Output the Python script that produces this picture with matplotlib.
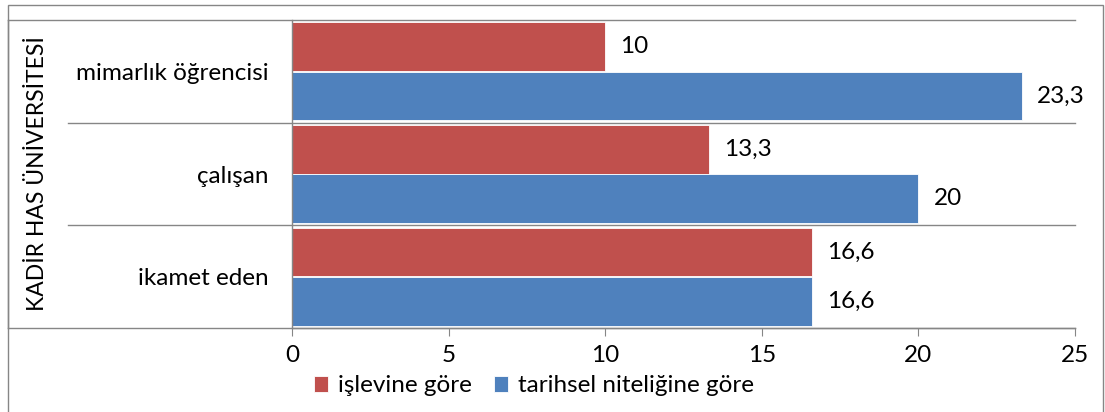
import matplotlib.pyplot as plt
import numpy as np
from matplotlib.patches import Rectangle

plt.rcParams['font.family'] = ['Lato', 'DejaVu Sans']

categories = ['mimarlık öğrencisi', 'çalışan', 'ikamet eden']
islev = [10, 13.3, 16.6]
tarihsel = [23.3, 20, 16.6]
series_names = ['işlevine göre', 'tarihsel niteliğine göre']
group_label = 'KADİR HAS ÜNİVERSİTESİ'
xticks = [0, 5, 10, 15, 20, 25]

red = '#C0504D'
blue = '#4F81BD'
gray = '#868686'
fs = 17.5

fig = plt.figure(figsize=(11.05, 4.12), dpi=100)
ax = fig.add_axes([292 / 1105, 1 - 328 / 412, 783 / 1105, 308 / 412])

y = np.arange(len(categories))
h = 0.475
b1 = ax.barh(y - 0.24, islev, height=h, color=red, edgecolor='white', linewidth=0.6, label=series_names[0])
b2 = ax.barh(y + 0.24, tarihsel, height=h, color=blue, edgecolor='white', linewidth=0.6, label=series_names[1])

for bars, vals in [(b1, islev), (b2, tarihsel)]:
    for bar, v in zip(bars, vals):
        ax.annotate(f'{v:g}'.replace('.', ','), (v, bar.get_y() + bar.get_height() / 2),
                    xytext=(11, 0), textcoords='offset points', va='center', ha='left', fontsize=fs)

ax.set_xlim(0, 25)
ax.set_ylim(2.5, -0.5)
ax.set_xticks(xticks)
ax.set_xticklabels([str(t) for t in xticks], fontsize=fs)
ax.tick_params(axis='x', length=6, color=gray, pad=6)
ax.set_yticks(y)
ax.set_yticklabels(categories, fontsize=fs)
ax.tick_params(axis='y', length=0, pad=17)

for s in ['top', 'right']:
    ax.spines[s].set_visible(False)
for s in ['left', 'bottom']:
    ax.spines[s].set_color(gray)
    ax.spines[s].set_linewidth(1)

# category separators, extended into the label box like Excel
trans = ax.get_yaxis_transform()
x_box = (8 - 292) / 783
x_inner = (68 - 292) / 783
for yb in [-0.5, 2.5]:
    ax.plot([x_box, 1], [yb, yb], color=gray, lw=1, transform=trans, clip_on=False, zorder=0)
for yb in [0.5, 1.5]:
    ax.plot([x_inner, 1], [yb, yb], color=gray, lw=1, transform=trans, clip_on=False, zorder=0)
ax.plot([x_box, x_box], [-0.5, 2.5], color=gray, lw=1, transform=trans, clip_on=False)

fig.text(38 / 1105, 1 - 174 / 412, group_label, rotation=90, ha='center', va='center', fontsize=16.5)

fig.legend(handles=[b1, b2], labels=series_names, loc='center', bbox_to_anchor=(534 / 1105, 1 - 386 / 412),
           ncol=2, frameon=False, fontsize=fs, handlelength=0.6, handleheight=0.6, handletextpad=0.4,
           columnspacing=0.9, borderpad=0)

fig.add_artist(Rectangle((8 / 1105, -0.01), 1095 / 1105, 1 - 5 / 412 + 0.01, transform=fig.transFigure,
                         fill=False, edgecolor=gray, lw=1))

fig.savefig('out.png', dpi=100)
